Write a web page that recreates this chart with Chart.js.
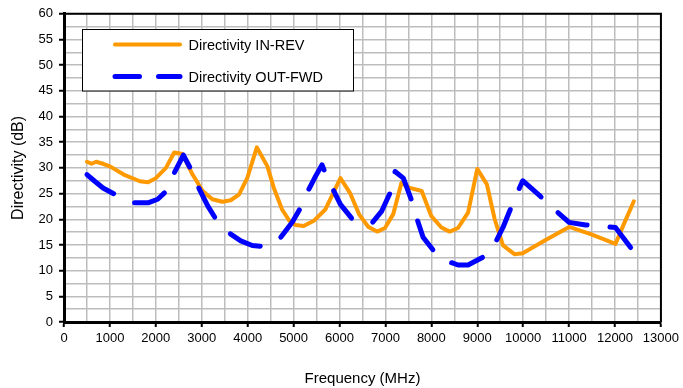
<!DOCTYPE html>
<html><head><meta charset="utf-8">
<script src="https://cdn.jsdelivr.net/npm/chart.js@4/dist/chart.umd.min.js"></script>
<style>html,body{margin:0;padding:0;background:#fff;overflow:hidden}canvas{display:block}</style>
</head><body>
<canvas id="c" width="683" height="388"></canvas>
<script>
// ---- data ----
const seriesNames = ['Directivity IN-REV', 'Directivity OUT-FWD'];
const xTitle = 'Frequency (MHz)';
const yTitle = 'Directivity (dB)';
const xTickLabels = ['0','1000','2000','3000','4000','5000','6000','7000','8000','9000','10000','11000','12000','13000'];
const yTickLabels = ['0','5','10','15','20','25','30','35','40','45','50','55','60'];

const inRevFreq = [500, 600, 700, 850, 1000, 1300, 1650, 1830, 2000, 2220, 2400, 2580, 2800, 3020, 3230, 3450, 3630, 3810, 3990, 4200, 4430, 4570, 4750, 4900, 5040, 5220, 5440, 5690, 6020, 6230, 6430, 6630, 6820, 6990, 7170, 7350, 7530, 7790, 8000, 8220, 8400, 8580, 8800, 9000, 9210, 9380, 9560, 9810, 9990, 10460, 11000, 11470, 12010, 12190, 12410];
const inRevDb   = [31.2, 30.8, 31.2, 30.8, 30.3, 28.7, 27.4, 27.2, 28.0, 30.0, 33.0, 32.7, 28.7, 25.5, 23.9, 23.4, 23.7, 24.8, 28.0, 34.0, 30.3, 26.1, 21.9, 19.8, 18.9, 18.7, 19.7, 21.9, 28.0, 25.1, 20.9, 18.5, 17.6, 18.3, 21.0, 27.1, 26.1, 25.5, 20.6, 18.4, 17.6, 18.3, 21.3, 29.8, 26.8, 20.0, 14.9, 13.2, 13.4, 15.8, 18.5, 17.1, 15.2, 19.0, 23.5];

const outFwdFreq = [500, 670, 850, 1140, 1500, 1830, 2040, 2230, 2400, 2600, 2770, 2950, 3130, 3310, 3630, 3850, 4100, 4360, 4720, 4970, 5150, 5330, 5480, 5620, 5690, 5870, 6020, 6300, 6700, 6920, 7100, 7210, 7390, 7560, 7680, 7820, 8040, 8360, 8580, 8800, 9120, 9380, 9560, 9710, 9870, 9990, 10360, 10680, 11000, 11360, 11760, 12010, 12340];
const outFwdDb   = [28.7, 27.4, 26.1, 24.7, 23.2, 23.2, 23.9, 25.5, 29.0, 32.5, 29.6, 25.8, 22.6, 20.0, 17.1, 15.8, 14.9, 14.7, 16.5, 19.4, 22.2, 25.8, 28.4, 30.6, 29.0, 25.6, 22.9, 19.8, 19.2, 21.6, 25.1, 29.3, 28.0, 23.9, 20.3, 16.5, 14.0, 11.8, 11.1, 11.1, 12.6, 15.2, 18.4, 21.7, 25.1, 27.5, 24.6, 21.9, 19.4, 18.9, 18.6, 18.4, 14.5];

// ---- styling ----
const ORANGE = '#FF9900';
const BLUE = '#0000FF';
const FONT = "'Liberation Sans', Arial, Helvetica, sans-serif";
Chart.defaults.font.family = FONT;
Chart.defaults.color = '#000';

const toPts = (xs, ys) => xs.map((x, i) => ({x: x, y: ys[i]}));

const framePlugin = {
  id: 'frame',
  afterDatasetsDraw(chart) {
    const {ctx, chartArea: a} = chart;
    ctx.save();
    ctx.strokeStyle = '#000';
    ctx.lineWidth = 2;
    ctx.beginPath();
    ctx.moveTo(a.left, a.top);
    ctx.lineTo(a.right, a.top);
    ctx.lineTo(a.right, a.bottom);
    ctx.stroke();
    ctx.restore();
  }
};

const legendPlugin = {
  id: 'boxLegend',
  afterDraw(chart) {
    const ctx = chart.ctx;
    const ds = chart.data.datasets;
    ctx.save();
    ctx.fillStyle = '#fff';
    ctx.fillRect(82.5, 29.5, 271, 61.5);
    ctx.strokeStyle = '#000';
    ctx.lineWidth = 1;
    ctx.strokeRect(82.5, 29.5, 271, 61.5);
    const rows = [44.5, 76.5];
    ds.forEach((d, i) => {
      ctx.beginPath();
      ctx.strokeStyle = d.borderColor;
      ctx.lineWidth = d.borderWidth;
      ctx.lineCap = 'round';
      ctx.setLineDash(i === 1 ? [24.5, 19] : []);
      ctx.moveTo(115, rows[i]);
      ctx.lineTo(180, rows[i]);
      ctx.stroke();
      ctx.setLineDash([]);
      ctx.fillStyle = '#000';
      ctx.font = '14.5px ' + FONT;
      ctx.textBaseline = 'middle';
      ctx.textAlign = 'left';
      ctx.fillText(d.label, 188.5, rows[i] + 1);
    });
    ctx.restore();
  }
};

new Chart(document.getElementById('c'), {
  type: 'scatter',
  data: {
    datasets: [
      {
        label: seriesNames[0],
        data: toPts(inRevFreq, inRevDb),
        showLine: true,
        borderColor: ORANGE,
        backgroundColor: ORANGE,
        borderWidth: 4,
        borderJoinStyle: 'round',
        borderCapStyle: 'round',
        pointRadius: 0,
        tension: 0,
        order: 2
      },
      {
        label: seriesNames[1],
        data: toPts(outFwdFreq, outFwdDb),
        showLine: true,
        borderColor: BLUE,
        backgroundColor: BLUE,
        borderWidth: 5,
        borderDash: [33, 23],
        borderJoinStyle: 'round',
        borderCapStyle: 'round',
        pointRadius: 0,
        tension: 0,
        order: 1
      }
    ]
  },
  options: {
    responsive: false,
    animation: false,
    devicePixelRatio: 1,
    layout: {padding: {top: 11, right: 19, left: 0, bottom: 0}},
    plugins: {legend: {display: false}, tooltip: {enabled: false}},
    scales: {
      x: {
        type: 'linear',
        min: 0, max: 13000,
        afterFit(s) { s.height = 66; },
        ticks: {
          stepSize: 500,
          autoSkip: false,
          maxRotation: 0,
          padding: 4,
          font: {size: 13},
          color: '#000',
          callback: (v) => (v % 1000 === 0 ? xTickLabels[v / 1000] : '')
        },
        grid: {
          color: '#bdbdbd',
          lineWidth: 1.5,
          drawTicks: true,
          tickLength: 5,
          tickWidth: 2,
          tickColor: (c) => (c.tick && c.tick.value % 1000 === 0 ? '#000' : 'rgba(0,0,0,0)')
        },
        border: {display: true, color: '#000', width: 3},
        title: {display: true, text: xTitle, font: {size: 15}, color: '#000', padding: {top: 0, bottom: 0}}
      },
      y: {
        type: 'linear',
        min: 0, max: 60,
        afterFit(s) { s.width = 64; },
        ticks: {
          stepSize: 2.5,
          autoSkip: false,
          padding: 6,
          font: {size: 13},
          color: '#000',
          callback: (v) => (v % 5 === 0 ? yTickLabels[v / 5] : '')
        },
        grid: {
          color: '#bdbdbd',
          lineWidth: 1.5,
          drawTicks: true,
          tickLength: 5,
          tickWidth: 2,
          tickColor: (c) => (c.tick && c.tick.value % 5 === 0 ? '#000' : 'rgba(0,0,0,0)')
        },
        border: {display: true, color: '#000', width: 3},
        title: {display: true, text: yTitle, font: {size: 16}, color: '#000', padding: {top: 9.4, bottom: 0}}
      }
    }
  },
  plugins: [framePlugin, legendPlugin]
});
</script>
</body></html>
